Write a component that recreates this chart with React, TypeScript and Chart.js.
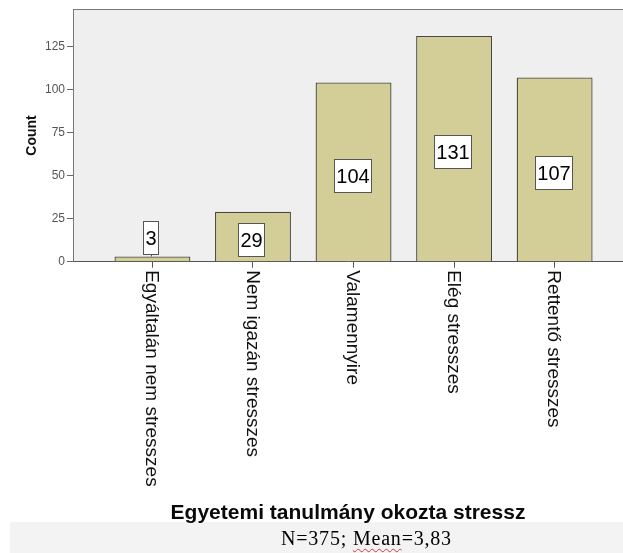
import React, { useEffect, useRef } from "react";
import { Chart, registerables } from "chart.js";

Chart.register(...registerables);

const categories = [
  "Egyáltalán nem stresszes",
  "Nem igazán stresszes",
  "Valamennyire",
  "Elég stresszes",
  "Rettentő stresszes",
];
const counts = [3, 29, 104, 131, 107];
const yTicks = [0, 25, 50, 75, 100, 125];
const xTitle = "Egyetemi tanulmány okozta stressz";
const yTitle = "Count";
const nValue = "375";
const meanValue = "3,83";

const SANS = '"Liberation Sans", Arial, sans-serif';

const plotBg = {
  id: "plotBg",
  beforeDraw(chart: any) {
    const { ctx, chartArea: a } = chart;
    ctx.save();
    ctx.fillStyle = "#efefef";
    ctx.fillRect(a.left, a.top, a.right - a.left, a.bottom - a.top);
    ctx.strokeStyle = "#7a7a7a";
    ctx.lineWidth = 1;
    ctx.beginPath();
    ctx.moveTo(a.left, Math.round(a.top) + 0.5);
    ctx.lineTo(a.right, Math.round(a.top) + 0.5);
    ctx.stroke();
    ctx.restore();
  },
};

const valueLabels = {
  id: "valueLabels",
  afterDatasetsDraw(chart: any) {
    const { ctx } = chart;
    const yScale = chart.scales.y;
    const meta = chart.getDatasetMeta(0);
    ctx.save();
    ctx.font = "20px " + SANS;
    ctx.textAlign = "center";
    ctx.textBaseline = "middle";
    counts.forEach((v, i) => {
      const bar = meta.data[i];
      const text = String(v);
      const w = Math.round(ctx.measureText(text).width + 4);
      const h = 33;
      const barTop = bar.y;
      const base = bar.base;
      let cy = yScale.getPixelForValue(v / 2) + 3;
      let above = false;
      if (base - barTop < h + 6) {
        cy = barTop - 3 - h / 2;
        above = true;
      }
      const x0 = Math.round(bar.x - 1.5 - w / 2) + 0.5;
      const y0 = Math.round(cy - h / 2) + 0.5;
      ctx.fillStyle = "#ffffff";
      ctx.fillRect(x0, y0, w, h);
      ctx.strokeStyle = "#555555";
      ctx.lineWidth = 1;
      ctx.strokeRect(x0, y0, w, h);
      if (above) {
        ctx.beginPath();
        ctx.moveTo(Math.round(bar.x - 1.5) + 0.5, y0 + h);
        ctx.lineTo(Math.round(bar.x - 1.5) + 0.5, barTop);
        ctx.stroke();
      }
      ctx.fillStyle = "#000000";
      ctx.fillText(text, x0 + w / 2, y0 + h / 2 + 1);
    });
    ctx.restore();
  },
};

const xLabels = {
  id: "xLabels",
  afterDraw(chart: any) {
    const { ctx } = chart;
    const x = chart.scales.x;
    const y0 = chart.chartArea.bottom + 8.5;
    ctx.save();
    ctx.font = "19px " + SANS;
    ctx.fillStyle = "#111111";
    ctx.textAlign = "left";
    ctx.textBaseline = "middle";
    categories.forEach((c, i) => {
      const px = x.getPixelForValue(i + 1);
      ctx.save();
      ctx.translate(px - 1, y0);
      ctx.rotate(Math.PI / 2);
      ctx.fillText(c, 0, 0);
      ctx.restore();
    });
    ctx.restore();
  },
};

export default function App() {
  const ref = useRef<HTMLCanvasElement | null>(null);

  useEffect(() => {
    if (!ref.current) return;
    const chart = new Chart(ref.current, {
      type: "bar",
      data: {
        datasets: [
          {
            data: counts.map((v, i) => ({ x: i + 1, y: v })),
            backgroundColor: "#d3ce97",
            borderColor: "#4a493e",
            borderWidth: 1.3,
            categoryPercentage: 1,
            barPercentage: 0.755,
          } as any,
        ],
      },
      options: {
        responsive: false,
        animation: false,
        layout: { padding: { top: 6.7, left: 0, right: 0, bottom: 0 } },
        plugins: {
          legend: { display: false },
          tooltip: { enabled: false },
        },
        scales: {
          x: {
            type: "linear",
            min: 0.21,
            max: 5.68,
            offset: false,
            grid: {
              display: true,
              drawOnChartArea: false,
              drawTicks: true,
              tickLength: 6,
              tickColor: "#555555",
              offset: false,
            },
            border: { display: true, color: "#555555", width: 1 },
            ticks: { display: false },
            afterBuildTicks: (s: any) => {
              s.ticks = categories.map((_, i) => ({ value: i + 1 }));
            },
            afterFit: (s: any) => {
              s.height = 291.3;
            },
            title: {
              display: true,
              text: xTitle,
              color: "#0a0a0a",
              font: { family: SANS, size: 21, weight: "bold" },
              padding: { top: 0, bottom: 27.4 },
            },
          },
          y: {
            type: "linear",
            min: 0,
            max: 146.6,
            grid: {
              display: true,
              drawOnChartArea: false,
              drawTicks: true,
              tickLength: 6,
              tickColor: "#666666",
            },
            border: { display: true, color: "#777777", width: 1 },
            ticks: {
              color: "#555555",
              padding: 2,
              font: { family: SANS, size: 12 },
            },
            afterBuildTicks: (s: any) => {
              s.ticks = yTicks.map((v) => ({ value: v }));
            },
            afterFit: (s: any) => {
              s.width = 73;
            },
            title: {
              display: true,
              text: yTitle,
              color: "#111111",
              font: { family: SANS, size: 14, weight: "bold" },
              padding: { top: 23.6, bottom: 0 },
            },
          },
        },
      } as any,
      plugins: [plotBg, valueLabels, xLabels],
    });
    return () => chart.destroy();
  }, []);

  return (
    <div
      style={{
        position: "absolute",
        left: 0,
        top: 0,
        width: 623,
        height: 553,
        background: "#ffffff",
        overflow: "hidden",
      }}
    >
      <div
        style={{
          position: "absolute",
          left: 10,
          top: 522,
          width: 613,
          height: 31,
          background: "#f3f3f3",
        }}
      />
      <canvas
        ref={ref}
        width={623}
        height={553}
        style={{ position: "absolute", left: 0, top: 0, display: "block" }}
      />
      <div
        style={{
          position: "absolute",
          left: 281,
          top: 527,
          font: '20px "Liberation Serif", "Times New Roman", serif',
          lineHeight: "22px",
          letterSpacing: "0.8px",
          whiteSpace: "nowrap",
          color: "#000000",
        }}
      >
        {`N=${nValue}; `}
        <span
          style={{
            textDecorationLine: "underline",
            textDecorationStyle: "wavy",
            textDecorationColor: "#d23a3a",
            textDecorationThickness: "1px",
            textUnderlineOffset: "3px",
          }}
        >
          Mean
        </span>
        {`=${meanValue}`}
      </div>
    </div>
  );
}
